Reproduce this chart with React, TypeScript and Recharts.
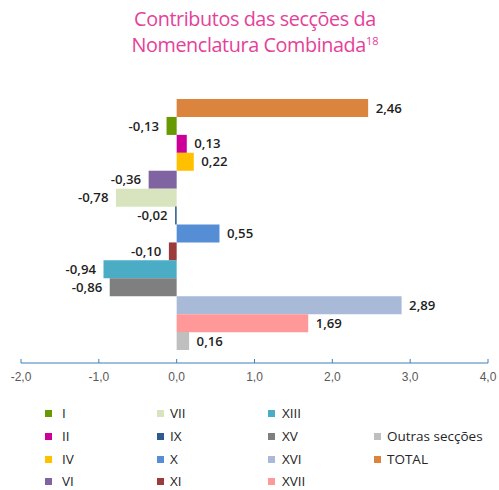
import React from "react";
import { BarChart, Bar, XAxis, YAxis, Cell, LabelList } from "recharts";

const categories = ["TOTAL", "I", "II", "IV", "VI", "VII", "IX", "X", "XI", "XIII", "XV", "XVI", "XVII", "Outras secções"];
const values = [2.46, -0.13, 0.13, 0.22, -0.36, -0.78, -0.02, 0.55, -0.1, -0.94, -0.86, 2.89, 1.69, 0.16];
const colors = ["#DB843D", "#669A00", "#CC0099", "#FFC000", "#8064A2", "#D7E4BD", "#2F5A8F", "#558ED5", "#9B3B3B", "#4BACC6", "#7F7F7F", "#A9B9D8", "#FF9999", "#BFBFBF"];
const xTicks = [-2, -1, 0, 1, 2, 3, 4];

const legendColumns: string[][] = [
  ["I", "II", "IV", "VI"],
  ["VII", "IX", "X", "XI"],
  ["XIII", "XV", "XVI", "XVII"],
  ["", "Outras secções", "TOTAL"],
];

const data = categories.map((name, i) => ({ name, value: values[i], color: colors[i] }));

const fmt = (v: number, d: number) => v.toFixed(d).replace(".", ",");

const ValueLabel = (props: any) => {
  const { x, y, width, height, value } = props;
  const left = Math.min(x, x + width);
  const right = Math.max(x, x + width);
  const neg = value < 0;
  return (
    <text
      x={neg ? left - 7.5 : right + 7.5}
      y={y + height / 2}
      dy="0.35em"
      textAnchor={neg ? "end" : "start"}
      fontFamily="'Open Sans', sans-serif"
      fontSize={13.2}
      fontWeight={600}
      fill="#1f1f1f"
    >
      {fmt(value, 2)}
    </text>
  );
};

const AxisTick = (props: any) => {
  const { x, y, payload } = props;
  return (
    <g>
      <line x1={x} x2={x} y1={y - 4} y2={y} stroke="#3F7FBF" strokeWidth={1} />
      <text x={x} y={y + 18} textAnchor="middle" fontFamily="'Liberation Sans', Arial, sans-serif" fontSize={12} fill="#595959">
        {fmt(payload.value, 1)}
      </text>
    </g>
  );
};

const legendX = [45, 157, 268, 374];
const legendLabelX = [62, 170, 282, 387];
const legendY = [413, 436, 459, 481];

export default function App() {
  return (
    <div style={{ position: "absolute", left: 0, top: 0, width: 499, height: 490, background: "#fff", overflow: "hidden" }}>
      <div
        style={{
          position: "absolute",
          left: 0,
          top: 6,
          width: 510,
          textAlign: "center",
          color: "#E5419A",
          fontFamily: "'Open Sans', sans-serif",
          fontSize: 19.8,
          lineHeight: "26px",
          letterSpacing: -0.4,
        }}
      >
        Contributos das secções da
        <br />
        Nomenclatura Combinada<sup style={{ fontSize: 11, verticalAlign: "top", position: "relative", top: -4, letterSpacing: 0 }}>18</sup>
      </div>
      <div style={{ position: "absolute", left: 0, top: 0 }}>
        <BarChart
          width={499}
          height={400}
          data={data}
          layout="vertical"
          margin={{ top: 99, right: 11, left: 21, bottom: 7 }}
          barCategoryGap={0}
        >
          <XAxis
            type="number"
            domain={[-2, 4]}
            ticks={xTicks}
            interval={0}
            axisLine={{ stroke: "#3F7FBF" }}
            tickLine={false}
            tickSize={0}
            tickMargin={0}
            height={30}
            tick={<AxisTick />}
          />
          <YAxis type="category" dataKey="name" hide padding={{ top: 0, bottom: 13 }} />
          <Bar dataKey="value" isAnimationActive={false}>
            {data.map((d, i) => (
              <Cell key={i} fill={d.color} />
            ))}
            <LabelList dataKey="value" content={<ValueLabel />} />
          </Bar>
        </BarChart>
      </div>
      {legendColumns.map((col, ci) =>
        col.map((label, ri) => {
          if (!label) return null;
          const idx = categories.indexOf(label);
          return (
            <React.Fragment key={ci + "-" + ri}>
              <div
                style={{
                  position: "absolute",
                  left: legendX[ci],
                  top: legendY[ri] - 3.5,
                  width: 7,
                  height: 7,
                  background: colors[idx],
                }}
              />
              <div
                style={{
                  position: "absolute",
                  left: legendLabelX[ci],
                  top: legendY[ri] - 8,
                  height: 16,
                  lineHeight: "16px",
                  fontFamily: "'Open Sans', sans-serif",
                  fontSize: 13.5,
                  color: "#262626",
                  whiteSpace: "nowrap",
                }}
              >
                {label}
              </div>
            </React.Fragment>
          );
        })
      )}
    </div>
  );
}
